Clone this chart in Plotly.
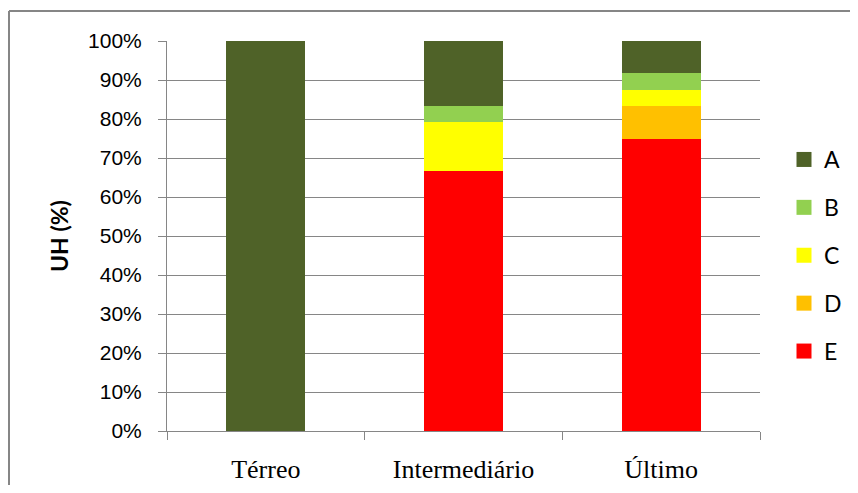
import plotly.graph_objects as go

categories = ["Térreo", "Intermediário", "Último"]
series_names = ["E", "D", "C", "B", "A"]
legend_order = ["A", "B", "C", "D", "E"]
E = [0, 66.67, 75.0]
D = [0, 0, 8.33]
C = [0, 12.5, 4.17]
B = [0, 4.17, 4.17]
A = [100, 16.67, 8.33]
colors = {"A": "#4F6228", "B": "#92D050", "C": "#FFFF00", "D": "#FFC000", "E": "#FF0000"}
values = {"A": A, "B": B, "C": C, "D": D, "E": E}
y_ticks = list(range(0, 101, 10))
y_tick_labels = [f"{v}%" for v in y_ticks]

fig = go.Figure()
for name in series_names:
    fig.add_trace(go.Bar(
        x=categories, y=values[name], name=name,
        marker=dict(color=colors[name], line=dict(width=0)),
        showlegend=False,
    ))
# legend entries (larger square swatches)
for i, name in enumerate(legend_order):
    fig.add_trace(go.Scatter(
        x=[None], y=[None], name=name, mode="markers",
        marker=dict(symbol="square", size=15, color=colors[name]),
        legendgroup=name, legendrank=i + 1, showlegend=True,
    ))

# page has an 8px body margin: figure coords = page coords - 8
W, H = 842, 477
L, R, T, B_ = 159, 90, 33, 54
pw, ph = W - L - R, H - T - B_

fig.update_layout(
    width=W, height=H,
    barmode="stack", bargap=0.6,
    margin=dict(l=L, r=R, t=T, b=B_, autoexpand=False),
    plot_bgcolor="white", paper_bgcolor="white",
    showlegend=True,
    legend=dict(
        traceorder="grouped", tracegroupgap=15,
        x=(776 - L) / pw, xanchor="left", y=1 - (130 - T) / ph, yanchor="top",
        font=dict(family="Lato, Liberation Sans, sans-serif", size=23, color="black"),
        itemsizing="trace",
    ),
    xaxis=dict(
        type="category", tickson="boundaries",
        ticks="outside", ticklen=8, tickcolor="#868686",
        showline=True, linecolor="#868686", linewidth=1,
        tickfont=dict(family="Liberation Serif, Times New Roman, serif", size=26, color="black"),
        ticklabelstandoff=15, automargin=False,
        showgrid=False,
    ),
    yaxis=dict(
        range=[0, 100], tickvals=y_ticks, ticktext=y_tick_labels,
        ticks="outside", ticklen=8, tickcolor="#868686",
        showline=True, linecolor="#868686", linewidth=1,
        showgrid=True, gridcolor="#868686", gridwidth=1,
        tickfont=dict(family="Liberation Sans, Arial, sans-serif", size=21, color="black"),
        ticklabelstandoff=12, automargin=False,
        title=dict(text="<b>UH (%)</b>", standoff=13,
                   font=dict(family="Lato, Liberation Sans, sans-serif", size=23, color="black")),
        zeroline=False,
    ),
)

# chart border (only top and left edges are visible in the frame)
bx0 = (1 - L) / pw
by1 = 1 + (T - 3) / ph
fig.add_shape(type="line", xref="paper", yref="paper",
              x0=bx0, x1=(W + 20 - L) / pw, y0=by1, y1=by1,
              line=dict(color="#868686", width=2), layer="below")
fig.add_shape(type="line", xref="paper", yref="paper",
              x0=bx0, x1=bx0, y0=-(H + 20 - T - ph) / ph, y1=by1,
              line=dict(color="#868686", width=2), layer="below")

fig.write_html("out.html")
